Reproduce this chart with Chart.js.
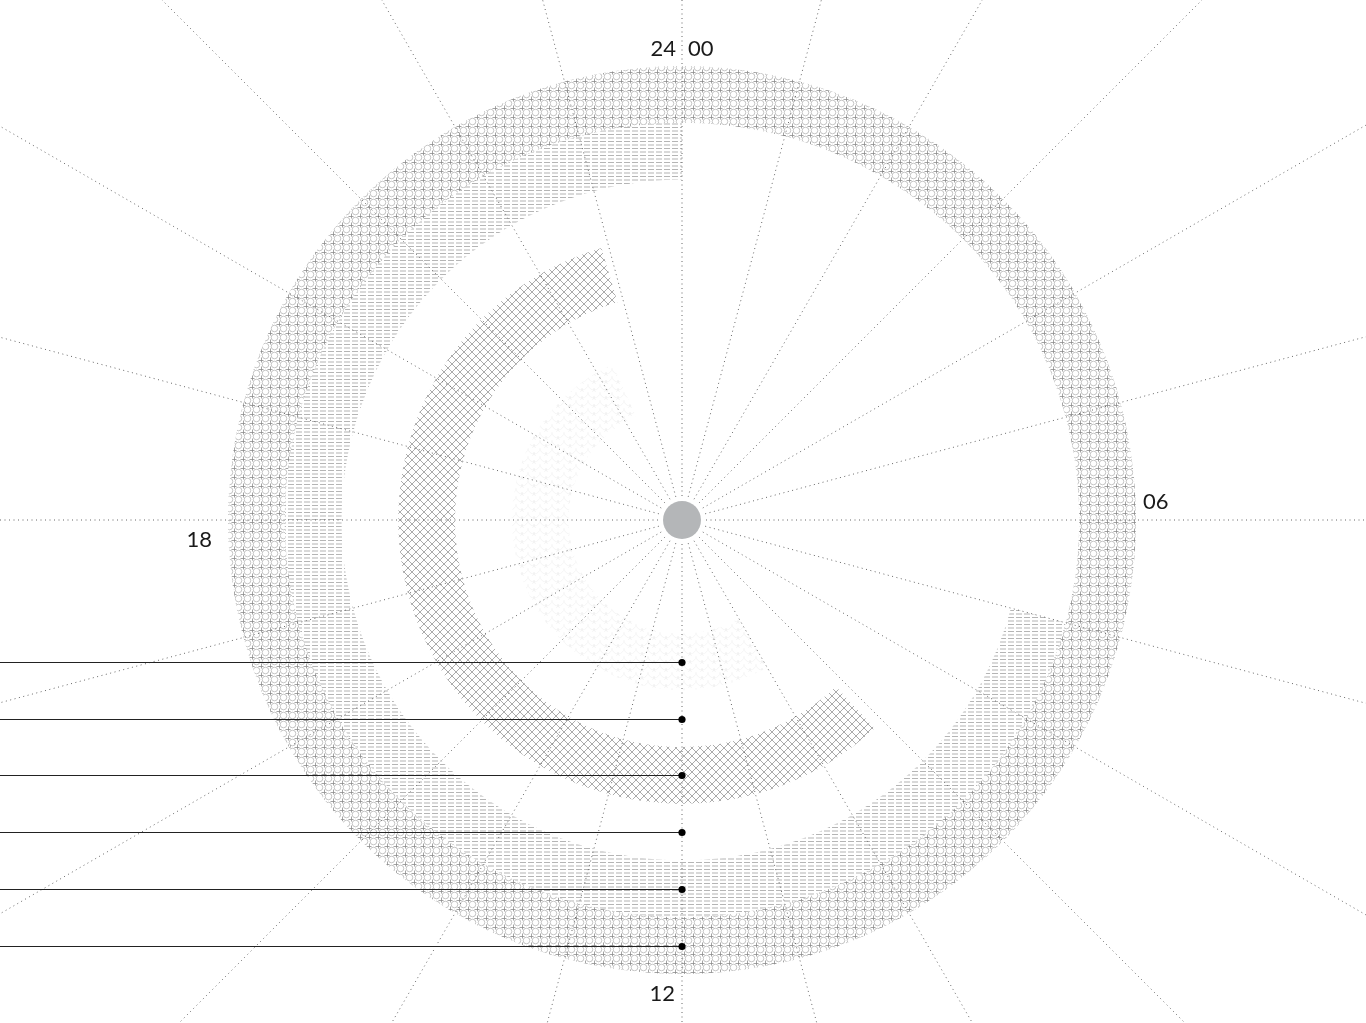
<!DOCTYPE html>
<html>
<head>
<meta charset="utf-8">
<title>24h rings</title>
<script src="https://cdn.jsdelivr.net/npm/chart.js@4/dist/chart.umd.min.js"></script>
<style>
  body { margin: 0; background: #fff; }
  .chart-box { width: 1366px; height: 1023px; position: relative; }
</style>
</head>
<body>
<div class="chart-box"><canvas id="myChart"></canvas></div>
<script>
// rings from outside to inside, times in hours (0 = top, clockwise)
const ringNames = ["ring 1", "ring 2", "ring 3", "ring 4", "ring 5", "ring 6"];
const startHours = [0, 7, null, 9.15, null, 10];
const endHours = [24, 24, null, 22.9, null, 22.4];
const hourLabels = ["24", "00", "06", "12", "18"];
const labelHours = [0, 0, 6, 12, 18];

function makePattern(w, h, draw) {
  const c = document.createElement("canvas");
  c.width = w;
  c.height = h;
  const g = c.getContext("2d");
  draw(g);
  return g.createPattern(c, "repeat");
}

const circlePattern = makePattern(9, 9, (g) => {
  g.strokeStyle = "rgba(160,160,160,0.6)";
  g.lineWidth = 1;
  g.beginPath();
  g.arc(4.5, 4.5, 3.3, 0, Math.PI * 2);
  g.stroke();
  g.strokeStyle = "rgba(140,140,140,0.8)";
  g.beginPath();
  g.moveTo(0, 0.5); g.lineTo(2.5, 0.5);
  g.moveTo(6.5, 0.5); g.lineTo(9, 0.5);
  g.moveTo(0.5, 0); g.lineTo(0.5, 2.5);
  g.moveTo(0.5, 6.5); g.lineTo(0.5, 9);
  g.stroke();
});

const dashPattern = makePattern(8, 7, (g) => {
  g.fillStyle = "rgba(150,150,150,0.7)";
  g.fillRect(0, 1, 6, 1);
  g.fillRect(0, 4.5, 6, 1);
});

const crossPattern = makePattern(8, 8, (g) => {
  g.strokeStyle = "rgba(150,150,150,0.8)";
  g.lineWidth = 1;
  g.beginPath();
  g.moveTo(0, 0); g.lineTo(8, 8);
  g.moveTo(8, 0); g.lineTo(0, 8);
  g.stroke();
});

const scalePattern = makePattern(12, 8, (g) => {
  g.strokeStyle = "rgba(215,215,215,0.22)";
  g.lineWidth = 1;
  g.beginPath();
  g.arc(6, 0, 6, 0, Math.PI);
  g.moveTo(6, 4);
  g.arc(0, 4, 6, 0, Math.PI);
  g.moveTo(18, 4);
  g.arc(12, 4, 6, 0, Math.PI);
  g.stroke();
});

const ringFills = [circlePattern, dashPattern, null, crossPattern, null, scalePattern];

const datasets = ringNames.map((name, i) => {
  const s = startHours[i];
  const e = endHours[i];
  if (s === null) {
    return { label: name, data: [24], backgroundColor: ["rgba(0,0,0,0)"] };
  }
  return {
    label: name,
    data: [s, e - s, 24 - e],
    backgroundColor: ["rgba(0,0,0,0)", ringFills[i], "rgba(0,0,0,0)"],
  };
});

const gridLines = {
  id: "gridLines",
  afterDatasetsDraw(chart) {
    const meta = chart.getDatasetMeta(0);
    const arc = meta.data[0];
    const cx = arc.x, cy = arc.y;
    const ctx = chart.ctx;
    ctx.save();
    ctx.strokeStyle = "#666";
    ctx.lineWidth = 1;
    ctx.setLineDash([1, 3.5]);
    for (let h = 0; h < 24; h++) {
      const a = (h / 24) * Math.PI * 2 - Math.PI / 2;
      ctx.beginPath();
      ctx.moveTo(cx + Math.cos(a) * 24, cy + Math.sin(a) * 24);
      ctx.lineTo(cx + Math.cos(a) * 1100, cy + Math.sin(a) * 1100);
      ctx.stroke();
    }
    ctx.setLineDash([]);

    // pointer lines to each ring at 12
    ctx.strokeStyle = "#222";
    ctx.fillStyle = "#000";
    chart.data.datasets.forEach((d, i) => {
      const el = chart.getDatasetMeta(i).data[0];
      const r = (el.innerRadius + el.outerRadius) / 2;
      const y = Math.round(cy + r) + 0.5;
      ctx.beginPath();
      ctx.moveTo(0, y);
      ctx.lineTo(cx, y);
      ctx.stroke();
      ctx.beginPath();
      ctx.arc(cx, y, 3.6, 0, Math.PI * 2);
      ctx.fill();
    });

    ctx.fillStyle = "#b4b6b8";
    ctx.beginPath();
    ctx.arc(cx, cy, 19, 0, Math.PI * 2);
    ctx.fill();

    // hour labels
    const outer = arc.outerRadius;
    const offsets = [[-6, 0, "right"], [6, 0, "left"], [0, -18, "left"], [0, 0, "right"], [0, 20, "right"]];
    ctx.fillStyle = "#1a1a1a";
    ctx.font = "22px Lato, 'Noto Sans', sans-serif";
    ctx.textBaseline = "middle";
    hourLabels.forEach((t, i) => {
      const a = (labelHours[i] / 24) * Math.PI * 2 - Math.PI / 2;
      let x = cx + Math.cos(a) * (outer + 18);
      let y = cy + Math.sin(a) * (outer + 18);
      if (labelHours[i] === 6) x = cx + outer + 7;
      if (labelHours[i] === 18) x = cx - outer - 16;
      if (labelHours[i] === 12) { x = cx - 7; y = cy + outer + 20; }
      if (labelHours[i] === 0) y = cy - outer - 17;
      ctx.textAlign = offsets[i][2];
      ctx.fillText(t, x + offsets[i][0], y + offsets[i][1]);
    });
    ctx.restore();
  },
};

const chartInstance = new Chart(document.getElementById("myChart"), {
  type: "doughnut",
  data: { labels: ["before", "active", "after"], datasets: datasets },
  options: {
    responsive: true,
    maintainAspectRatio: false,
    animation: false,
    radius: 454,
    cutout: "25%",
    layout: { padding: { top: 17, right: 2 } },
    elements: { arc: { borderWidth: 0 } },
    plugins: {
      legend: { display: false },
      tooltip: { enabled: false },
    },
  },
  plugins: [gridLines],
});
</script>
</body>
</html>
